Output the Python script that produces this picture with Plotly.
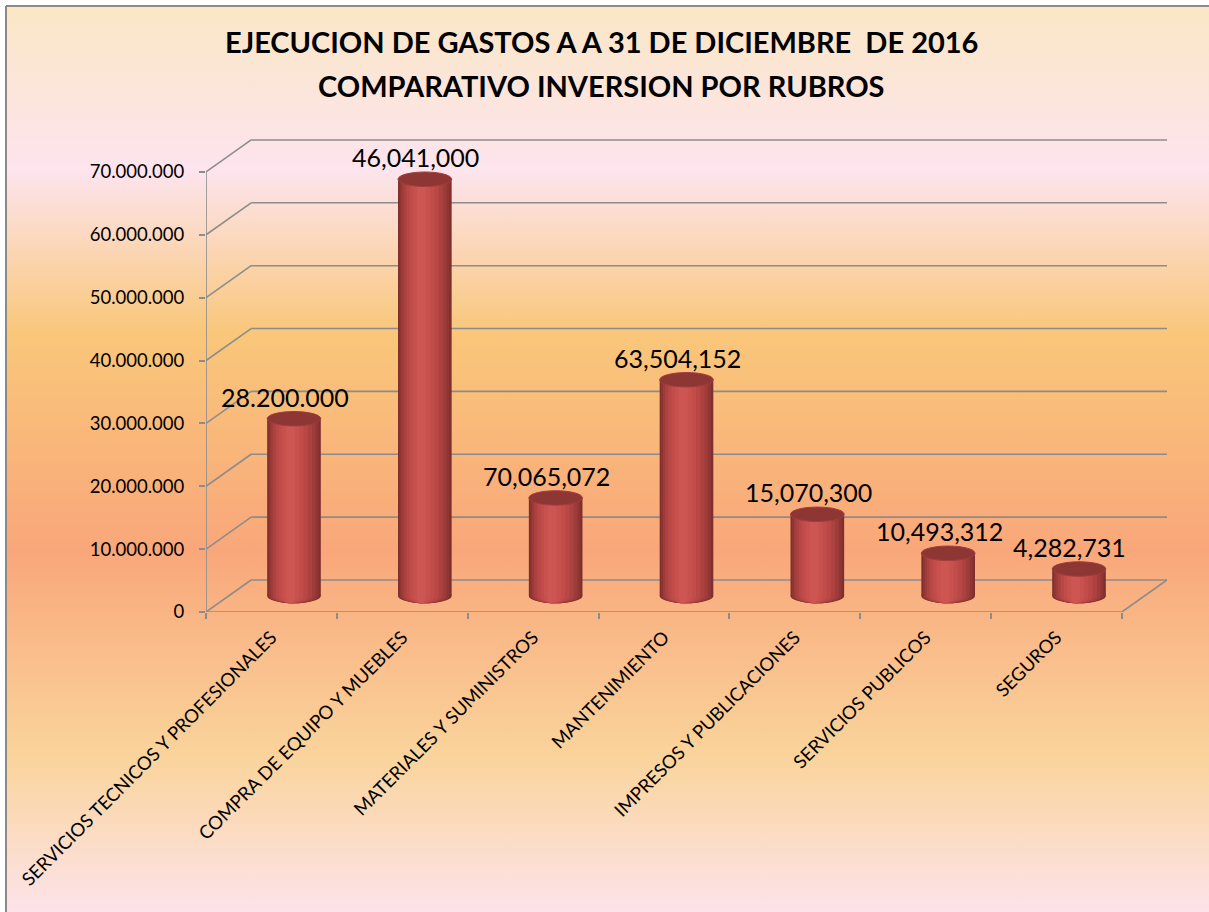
import base64
import plotly.graph_objects as go

# ---------------- data ----------------
categories = [
    "SERVICIOS TECNICOS Y PROFESIONALES",
    "COMPRA DE EQUIPO Y MUEBLES",
    "MATERIALES Y SUMINISTROS",
    "MANTENIMIENTO",
    "IMPRESOS Y PUBLICACIONES",
    "SERVICIOS PUBLICOS",
    "SEGUROS",
]
values = [28.2e6, 66.3e6, 15.6e6, 34.4e6, 13.0e6, 6.8e6, 4.3e6]
value_labels = ["28.200.000", "46,041,000", "70,065,072", "63,504,152",
                "15,070,300", "10,493,312", "4,282,731"]
y_ticks = [0, 10e6, 20e6, 30e6, 40e6, 50e6, 60e6, 70e6]
title_lines = ["EJECUCION DE GASTOS A A 31 DE DICIEMBRE \u00a0DE 2016",
               "COMPARATIVO INVERSION POR RUBROS"]

# ---------------- geometry / style ----------------
W_PX, H_PX = 1209, 912
ML, MR, MT, MB = 206, 42, 137, 300
PW, PH = W_PX - ML - MR, H_PX - MT - MB
DX = 0.345          # depth offset in category units
DY = 5.09e6         # depth offset in value units
YMAX = 75.56e6
BW = 0.41           # cylinder width
RY = 1.15e6         # ellipse half-height (value units)
GRID = "#8C8C8C"
FONT = "Lato"

layers = [  # (width fraction, centre shift, colour) -> cylinder shading
    (1.00, 0.000, "#7F2F2D"),
    (0.93, -0.003, "#8F3533"),
    (0.84, -0.007, "#9E3C3A"),
    (0.73, -0.012, "#AC4240"),
    (0.60, -0.017, "#B84745"),
    (0.46, -0.021, "#C14C49"),
    (0.32, -0.024, "#C8514E"),
    (0.17, -0.026, "#CD5552"),
]

fig = go.Figure()
shapes = []

# cylinder bodies
for wf, sh, col in layers:
    w = BW * wf
    fig.add_trace(go.Bar(
        x=categories, y=values, base=[DY / 2] * len(values),
        width=[w] * len(values), offset=[DX / 2 + sh - w / 2] * len(values),
        marker=dict(color=col, line=dict(width=0)),
        hoverinfo="skip", showlegend=False,
    ))

# bottom and top ellipses
for i, v in enumerate(values):
    cx = i + DX / 2
    for wf, sh, col in layers:
        w = BW * wf
        shapes.append(dict(type="circle", xref="x", yref="y", layer="between",
                           x0=cx + sh - w / 2, x1=cx + sh + w / 2,
                           y0=DY / 2 - RY, y1=DY / 2 + RY,
                           fillcolor=col, line=dict(width=0)))
    top = v + DY / 2
    shapes.append(dict(type="circle", xref="x", yref="y", layer="above",
                       x0=cx - BW / 2, x1=cx + BW / 2, y0=top - RY, y1=top + RY,
                       fillcolor="#8E3634", line=dict(color="#A03E3C", width=1)))

# back wall grid lines and left wall slants
for t in y_ticks:
    shapes.append(dict(type="line", xref="x", yref="y", layer="below",
                       x0=-0.5 + DX, x1=6.5 + DX, y0=t + DY, y1=t + DY,
                       line=dict(color=GRID, width=1.6)))
    shapes.append(dict(type="line", xref="x", yref="y", layer="below",
                       x0=-0.5, x1=-0.5 + DX, y0=t, y1=t + DY,
                       line=dict(color=GRID, width=1.6)))
# front axes and floor edge
shapes.append(dict(type="line", xref="x", yref="y", layer="below",
                   x0=-0.5, x1=-0.5, y0=0, y1=y_ticks[-1],
                   line=dict(color=GRID, width=1.6)))
shapes.append(dict(type="line", xref="x", yref="y", layer="below",
                   x0=-0.5, x1=6.5, y0=0, y1=0, line=dict(color=GRID, width=1.6)))
shapes.append(dict(type="line", xref="x", yref="y", layer="below",
                   x0=6.5, x1=6.5 + DX, y0=0, y1=DY, line=dict(color=GRID, width=1.6)))


def px_x(p):
    return (p - ML) / PW


def px_y(p):
    return (H_PX - MB - p) / PH


# chart border (top and left)
shapes.append(dict(type="line", xref="paper", yref="paper", layer="below",
                   x0=px_x(6), x1=px_x(W_PX), y0=px_y(6), y1=px_y(6),
                   line=dict(color="#8A8A8A", width=2)))
shapes.append(dict(type="line", xref="paper", yref="paper", layer="below",
                   x0=px_x(6), x1=px_x(6), y0=px_y(6), y1=px_y(H_PX),
                   line=dict(color="#8A8A8A", width=2)))

# background gradient
stops = [(0.0, "#FAE7C6"), (0.18, "#FDE4EE"), (0.36, "#F9C77A"),
         (0.60, "#F9A77A"), (0.83, "#FAD49C"), (1.0, "#FDE3EA")]
stop_xml = "".join(f'<stop offset="{o}" stop-color="{c}"/>' for o, c in stops)
svg = ('<svg xmlns="http://www.w3.org/2000/svg" width="100" height="100" '
       'viewBox="0 0 100 100" preserveAspectRatio="none"><defs>'
       f'<linearGradient id="g" x1="0" y1="0" x2="0" y2="1">{stop_xml}</linearGradient>'
       '</defs><rect width="100" height="100" fill="url(#g)"/></svg>')
src = "data:image/svg+xml;base64," + base64.b64encode(svg.encode()).decode()

annotations = []
# title lines
for line, yc in zip(title_lines, [41.5, 85.5]):
    annotations.append(dict(x=px_x(601), y=px_y(yc), xref="paper", yref="paper",
                            text="<b>" + line + "</b>", showarrow=False,
                            xanchor="center", yanchor="middle",
                            font=dict(family=FONT, size=29, color="#000000")))
# value labels
for i, (v, lab) in enumerate(zip(values, value_labels)):
    annotations.append(dict(x=i + DX / 2 - 0.07, y=v + DY / 2 + RY, xref="x", yref="y",
                            text=lab, showarrow=False, yanchor="bottom", yshift=-2,
                            font=dict(family=FONT, size=25, color="#000000")))

fig.update_layout(
    width=W_PX, height=H_PX, autosize=False,
    margin=dict(l=ML, r=MR, t=MT, b=MB, pad=0),
    paper_bgcolor="#FFFFFF", plot_bgcolor="rgba(0,0,0,0)",
    barmode="overlay", separators=",.",
    shapes=shapes, annotations=annotations,
    images=[dict(source=src, xref="paper", yref="paper",
                 x=px_x(7), y=px_y(7), sizex=(W_PX - 7) / PW, sizey=(H_PX - 7) / PH,
                 xanchor="left", yanchor="top", sizing="stretch", layer="below")],
    xaxis=dict(type="category", range=[-0.5, 6.5 + DX], showgrid=False, zeroline=False,
               showline=False, ticks="outside", tickson="boundaries", ticklen=6,
               tickcolor=GRID, tickwidth=1.6, tickangle=-45, ticklabelstandoff=10,
               tickfont=dict(family=FONT, size=18.5, color="#000000")),
    yaxis=dict(range=[0, YMAX], showgrid=False, zeroline=False, showline=False,
               tickvals=y_ticks, tickformat=",.0f", ticks="outside", ticklen=6,
               tickcolor=GRID, tickwidth=1.6, ticklabelstandoff=11,
               tickfont=dict(family=FONT, size=18.5, color="#000000")),
)

fig.write_html("out.html", config={"displayModeBar": False},
               post_script="document.body.style.margin='0';"
                           "document.body.style.overflow='hidden';")
